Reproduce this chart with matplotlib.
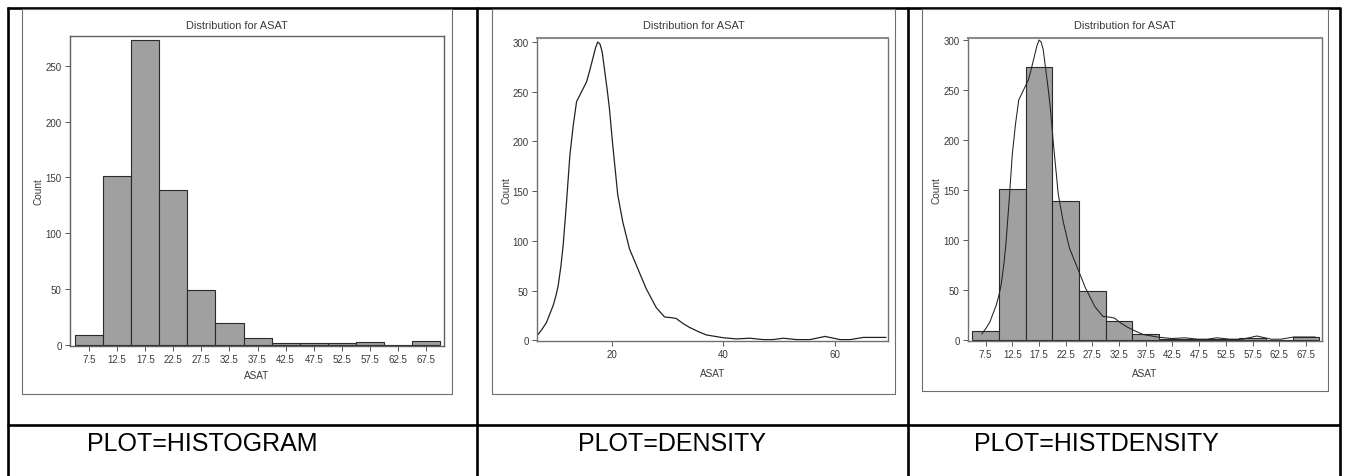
import matplotlib
matplotlib.use('Agg')
import matplotlib.pyplot as plt
from matplotlib import font_manager

# histogram of ASAT, 5-wide bins
bin_centers = [7.5, 12.5, 17.5, 22.5, 27.5, 32.5, 37.5, 42.5, 47.5, 52.5, 57.5, 62.5, 67.5]
counts = [9, 151, 273, 139, 49, 19, 6, 1, 1, 1, 2, 0, 3]

# density curve (count scale)
density_x = [6.8, 7.6, 8.3, 9.0, 9.5, 10.0, 10.4, 10.9, 11.3, 11.9, 12.5, 13.1, 13.7,
             14.6, 15.5, 16.0, 16.6, 17.1, 17.5, 17.9, 18.3, 18.7, 19.2, 19.6, 20.2,
             21.1, 22.0, 23.2, 24.7, 26.2, 28.0, 29.5, 30.5, 31.6, 32.8, 34.0, 35.5,
             37.0, 40.0, 42.4, 44.8, 47.2, 49.0, 50.8, 53.2, 55.6, 58.3, 61.0, 62.8,
             65.2, 69.2]
density_y = [6, 12, 18, 28, 35, 45, 55, 75, 96, 139, 186, 216, 240,
             250, 260, 270, 283, 294, 300, 298, 290, 273, 252, 233, 196,
             146, 119, 92, 72, 52, 33, 23.5, 23, 22, 17, 13, 9,
             5.5, 2.7, 1.5, 2.2, 0.8, 0.8, 2.2, 0.8, 0.8, 4, 0.8, 0.8,
             3, 3]

hist_ticks = bin_centers
density_ticks = [20, 40, 60]
count_ticks = [0, 50, 100, 150, 200, 250, 300]
panel_labels = ['PLOT=HISTOGRAM', 'PLOT=DENSITY', 'PLOT=HISTDENSITY']

W, H = 1345, 477
names = {f.name for f in font_manager.fontManager.ttflist}
if 'Liberation Sans Narrow' in names:
    narrow = 'Liberation Sans Narrow'
    title_fs, label_fs, tick_fs = 9.5, 8.5, 8.5
else:
    narrow = 'Liberation Sans'
    title_fs, label_fs, tick_fs = 7.9, 7.2, 7.0
TXT = '#3a3a3a'
BAR = '#a0a0a0'

fig = plt.figure(figsize=(W / 100, H / 100), dpi=100)
fig.patch.set_facecolor('white')

# background layer in pixel coordinates: table lines, image frames, captions
bg = fig.add_axes([0, 0, 1, 1], zorder=0)
bg.set_xlim(0, W)
bg.set_ylim(H, 0)
bg.axis('off')
tl = dict(color='black', lw=1.9, solid_capstyle='butt')
bg.plot([7, 1340], [9, 9], **tl)
bg.plot([7, 1340], [425.5, 425.5], **tl)
for xv in [7.5, 477, 908, 1340]:
    bg.plot([xv, xv], [8, 477], **tl)

frames = [(22, 10, 452, 395), (492, 10, 895, 395), (922, 10, 1328, 392)]
for (l, t, r, b) in frames:
    bg.plot([l, r, r, l, l], [t, t, b, b, t], color='#6e6e6e', lw=0.8)

for xt, lab in zip([87, 578, 974], panel_labels):
    bg.text(xt, 451.5, lab, fontsize=18, family='Liberation Sans', va='baseline', ha='left', color='black')


def make_axes(l, t, r, b):
    ax = fig.add_axes([l / W, 1 - b / H, (r - l) / W, (b - t) / H], zorder=1)
    for s in ax.spines.values():
        s.set_color('#707070')
        s.set_linewidth(1.0)
    ax.spines['top'].set_linewidth(1.5)
    ax.spines['top'].set_color('#8a8a8a')
    ax.tick_params(direction='out', length=3.5, width=0.7, color='#555555',
                   labelsize=tick_fs, labelcolor=TXT, pad=2.5)
    return ax


def decorate(ax, frame, ylab_x, xlab_y):
    l, t, r, b = frame
    pos = ax.get_position()
    cx = (pos.x0 + pos.x1) / 2
    cy = (pos.y0 + pos.y1) / 2
    fig.text((l + r) / 2 / W, 1 - 26 / H, 'Distribution for ASAT', ha='center', va='center',
             fontsize=title_fs, family=narrow, color=TXT)
    fig.text(cx, 1 - xlab_y / H, 'ASAT', ha='center', va='center',
             fontsize=label_fs, family=narrow, color=TXT)
    fig.text(ylab_x / W, cy, 'Count', ha='center', va='center', rotation=90,
             fontsize=label_fs, family=narrow, color=TXT)
    for lab in ax.get_xticklabels() + ax.get_yticklabels():
        lab.set_family(narrow)


# panel 1: histogram
ax1 = make_axes(70, 37, 444, 347)
ax1.bar(bin_centers, counts, width=5, color=BAR, edgecolor='#2a2a2a', linewidth=0.8)
ax1.set_xlim(4.1, 70.7)
ax1.set_ylim(-1.3, 277)
ax1.set_xticks(hist_ticks)
ax1.set_xticklabels([str(v) for v in hist_ticks])
ax1.set_yticks(count_ticks[:-1])
for s in ax1.spines.values():
    s.set_linewidth(1.0)
    s.set_color('#606060')
decorate(ax1, frames[0], 38, 376)

# panel 2: density
ax2 = make_axes(537, 39, 888, 342)
ax2.plot(density_x, density_y, color='#222222', lw=0.9)
ax2.set_xlim(6.6, 69.6)
ax2.set_ylim(-0.6, 304)
ax2.set_xticks(density_ticks)
ax2.set_yticks(count_ticks)
decorate(ax2, frames[1], 506.7, 374)

# panel 3: histogram + density
ax3 = make_axes(968, 39, 1322, 342)
ax3.bar(bin_centers, counts, width=5, color=BAR, edgecolor='#2a2a2a', linewidth=0.8)
ax3.plot(density_x, density_y, color='#222222', lw=0.75)
ax3.set_xlim(4.2, 70.5)
ax3.set_ylim(-1, 302)
ax3.set_xticks(hist_ticks)
ax3.set_xticklabels([str(v) for v in hist_ticks])
ax3.set_yticks(count_ticks)
decorate(ax3, frames[2], 936.7, 374)

fig.savefig('out.png', dpi=100)
